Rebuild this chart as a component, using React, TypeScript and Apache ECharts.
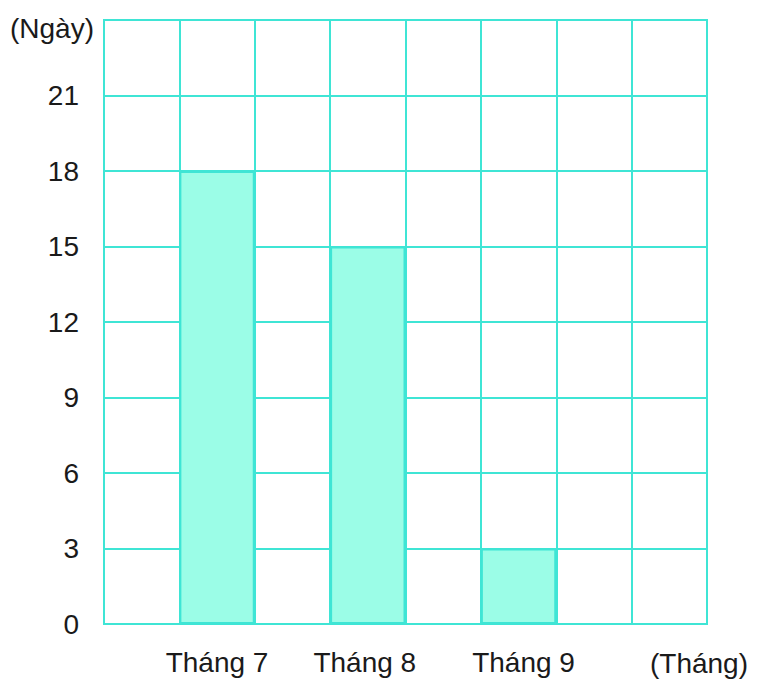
import React, { useEffect, useRef } from "react";
import * as echarts from "echarts";

const categories = ["", "Tháng 7", "", "Tháng 8", "", "Tháng 9", "", ""];
const days = [null, 18, null, 15, null, 3, null, null];
const yTicks = { min: 0, max: 24, interval: 3 };
const yAxisName = "(Ngày)";
const xAxisName = "(Tháng)";

const LINE = "#3fe5d5";
const FILL = "#9bfde7";
const FONT = "'Liberation Sans', Arial, sans-serif";

export default function App() {
  const ref = useRef<HTMLDivElement>(null);
  useEffect(() => {
    if (!ref.current) return;
    const chart = echarts.init(ref.current, null, { renderer: "svg" });
    const labelBase = { color: "#1a1a1a", fontSize: 28, fontFamily: FONT };
    chart.setOption({
      animation: false,
      backgroundColor: "#ffffff",
      grid: {
        left: 104,
        right: 51,
        top: 20,
        bottom: 58,
        show: true,
        borderColor: LINE,
        borderWidth: 2,
      },
      xAxis: {
        type: "category",
        data: categories,
        boundaryGap: true,
        axisLine: { show: true, lineStyle: { color: LINE, width: 2 } },
        axisTick: { show: false },
        splitLine: { show: true, interval: 0, lineStyle: { color: LINE, width: 2 } },
        axisLabel: {
          interval: 0,
          margin: 24,
          ...labelBase,
          formatter: (v: string, i: number) => {
            if (!v) return "";
            if (i === 3) return "{l|" + v + "}";
            if (i === 5) return "{r|" + v + "}";
            return "{n|" + v + "}";
          },
          rich: {
            n: { ...labelBase },
            l: { ...labelBase, padding: [0, 6, 0, 0] },
            r: { ...labelBase, padding: [0, 0, 0, 10] },
          },
        },
      },
      yAxis: {
        type: "value",
        min: yTicks.min,
        max: yTicks.max,
        interval: yTicks.interval,
        axisLine: { show: true, lineStyle: { color: LINE, width: 2 } },
        axisTick: { show: false },
        splitLine: { show: true, lineStyle: { color: LINE, width: 2 } },
        axisLabel: {
          margin: 25,
          ...labelBase,
          showMaxLabel: false,
          formatter: (v: number) => (v === yTicks.max ? "" : String(v)),
        },
      },
      graphic: [
        {
          type: "text",
          left: 10,
          top: 14,
          style: { text: yAxisName, fill: "#1a1a1a", fontSize: 28, fontFamily: FONT },
        },
        {
          type: "text",
          right: 10,
          top: 649,
          style: { text: xAxisName, fill: "#1a1a1a", fontSize: 28, fontFamily: FONT },
        },
      ],
      series: [
        {
          type: "bar",
          data: days,
          barWidth: "100%",
          itemStyle: { color: FILL, borderColor: LINE, borderWidth: 2 },
          z: 3,
        },
      ],
    });
    return () => chart.dispose();
  }, []);
  return (
    <div
      ref={ref}
      style={{ position: "fixed", left: 0, top: 0, width: 758, height: 682 }}
    />
  );
}
